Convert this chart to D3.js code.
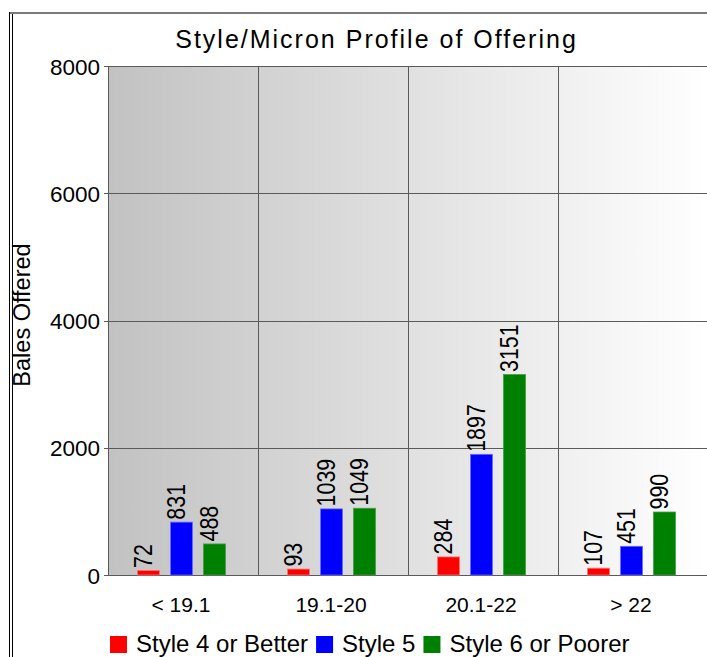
<!DOCTYPE html>
<html>
<head>
<meta charset="utf-8">
<script src="https://cdn.jsdelivr.net/npm/d3@7"></script>
<style>
  html, body { margin: 0; padding: 0; background: #fff; }
  svg { display: block; }
  text { font-family: "Liberation Sans", Arial, sans-serif; fill: #000; }
</style>
</head>
<body>
<script>
// ---- data ----
const categories = ["< 19.1", "19.1-20", "20.1-22", "> 22"];
const seriesNames = ["Style 4 or Better", "Style 5", "Style 6 or Poorer"];
const style4 = [72, 93, 284, 107];
const style5 = [831, 1039, 1897, 451];
const style6 = [488, 1049, 3151, 990];
const yTicks = [0, 2000, 4000, 6000, 8000];
const seriesColors = ["#ff0000", "#0000ff", "#008000"];
const seriesStrokes = ["#ff7070", "#6a6aff", "#4a9a4a"];
const titleText = "Style/Micron Profile of Offering";
const yTitle = "Bales Offered";

const seriesValues = [style4, style5, style6];

const W = 707, H = 657;
const plot = { left: 108, right: 708, top: 66, bottom: 575 };

const svg = d3.select("body").append("svg").attr("width", W).attr("height", H);

// gradient background
const defs = svg.append("defs");
const grad = defs.append("linearGradient").attr("id", "bg").attr("x1", "0%").attr("x2", "100%").attr("y1", "0%").attr("y2", "0%");
grad.append("stop").attr("offset", "0%").attr("stop-color", "#c2c2c2");
grad.append("stop").attr("offset", "100%").attr("stop-color", "#ffffff");

// outer frame
svg.append("rect").attr("x", 9).attr("y", 12).attr("width", W - 9).attr("height", 2).attr("fill", "#7a7a7a");
svg.append("line").attr("x1", 9.5).attr("x2", 9.5).attr("y1", 12).attr("y2", H).attr("stroke", "#000").attr("stroke-width", 1);
svg.append("line").attr("x1", 12.5).attr("x2", 12.5).attr("y1", 14).attr("y2", H).attr("stroke", "#000").attr("stroke-width", 1);

// scales
const x = d3.scaleBand().domain(categories).range([plot.left, plot.right]).padding(0);
const xInner = d3.scaleBand().domain(seriesNames).range([29.5, 29.5 + 88]).paddingInner(1 / 3).paddingOuter(0);
const y = d3.scaleLinear().domain([0, 8000]).range([plot.bottom, plot.top]);

// plot background
svg.append("rect")
  .attr("x", plot.left).attr("y", plot.top)
  .attr("width", plot.right - plot.left).attr("height", plot.bottom - plot.top)
  .attr("fill", "url(#bg)");

// grid
const grid = svg.append("g").attr("stroke", "#5a5a5a").attr("stroke-width", 1);
yTicks.forEach(t => {
  const yy = Math.round(y(t)) + 0.5;
  grid.append("line").attr("x1", plot.left - 4).attr("x2", plot.right).attr("y1", yy).attr("y2", yy);
});
categories.forEach((c, i) => {
  const xx = Math.round(x(c)) + 0.5;
  grid.append("line").attr("x1", xx).attr("x2", xx).attr("y1", plot.top).attr("y2", plot.bottom);
});

// y axis labels
const yAxis = d3.axisLeft(y).tickValues(yTicks).tickSize(0).tickPadding(8).tickFormat(d3.format("d"));
const gy = svg.append("g").attr("transform", `translate(${plot.left},0)`).call(yAxis);
gy.select(".domain").remove();
gy.selectAll("text").style("font-size", "22.5px").style("font-family", "Liberation Sans, Arial, sans-serif").attr("dy", "0.36em");

// x axis labels
const xAxis = d3.axisBottom(x).tickSize(0).tickPadding(0);
const gx = svg.append("g").attr("transform", `translate(-2,${plot.bottom})`).call(xAxis);
gx.select(".domain").remove();
gx.selectAll("text").style("font-size", "21px").style("font-family", "Liberation Sans, Arial, sans-serif").attr("y", 37).attr("dy", "0");

// bars
const barG = svg.append("g");
categories.forEach((c, ci) => {
  seriesNames.forEach((s, si) => {
    const v = seriesValues[si][ci];
    const bx = x(c) + xInner(s);
    const bw = xInner.bandwidth();
    barG.append("rect")
      .attr("x", bx).attr("y", y(v))
      .attr("width", bw).attr("height", y(0) - y(v))
      .attr("fill", seriesColors[si])
      .attr("stroke", seriesStrokes[si]).attr("stroke-width", 0.8);
    barG.append("text")
      .attr("transform", `translate(${bx + bw / 2 + 3.5},${y(v) - 2.5}) rotate(-90) scale(0.84,1)`)
      .attr("text-anchor", "start")
      .style("font-size", "25.5px")
      .text(v);
  });
});

// title
svg.append("text")
  .attr("x", 376.5).attr("y", 48)
  .attr("text-anchor", "middle")
  .style("font-size", "25px")
  .style("letter-spacing", "2px")
  .text(titleText);

// y title
svg.append("text")
  .attr("transform", `translate(30,315) rotate(-90)`)
  .attr("text-anchor", "middle")
  .style("font-size", "23.5px")
  .text(yTitle);

// legend
const leg = svg.append("g");
let lx = 110;
seriesNames.forEach((s, i) => {
  leg.append("rect").attr("x", lx).attr("y", 636).attr("width", 17).attr("height", 17).attr("fill", seriesColors[i]);
  const t = leg.append("text").attr("x", lx + 26).attr("y", 652).style("font-size", "24px").text(s);
  lx = lx + 26 + t.node().getComputedTextLength() + 8;
});
</script>
</body>
</html>
